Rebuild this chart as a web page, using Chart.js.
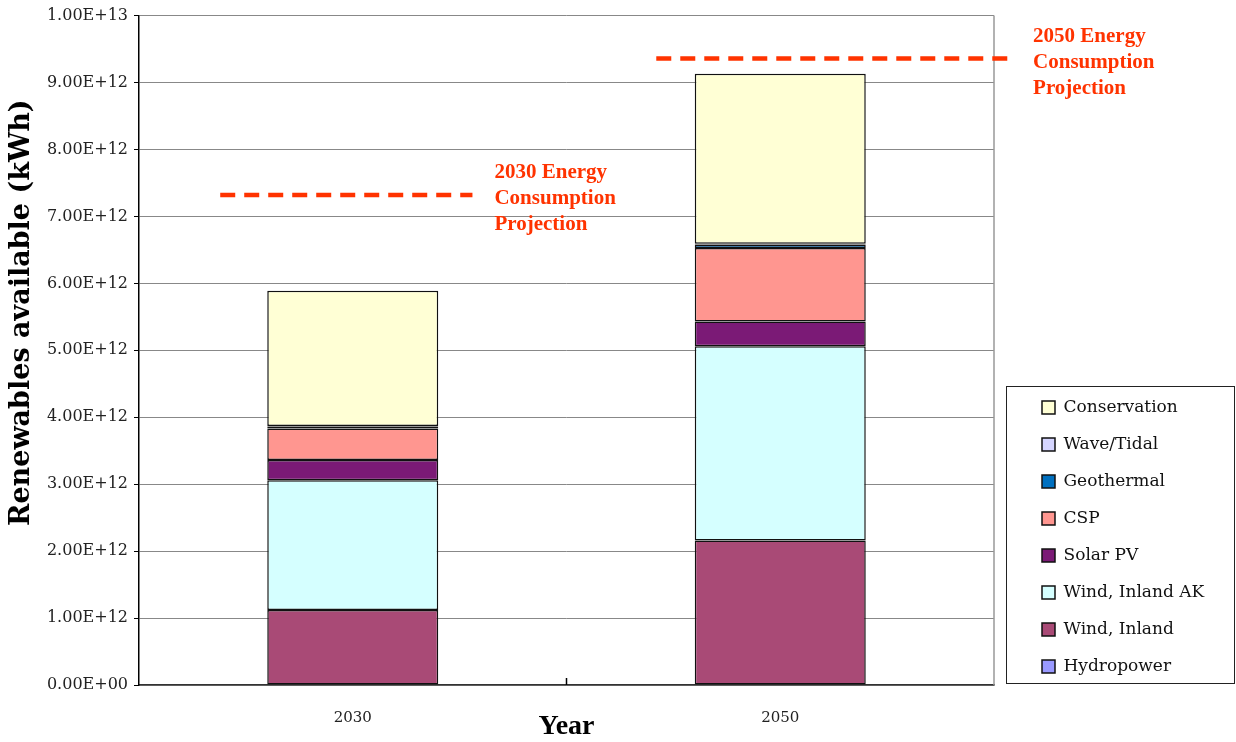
<!DOCTYPE html>
<html>
<head>
<meta charset="utf-8">
<script src="https://cdn.jsdelivr.net/npm/chart.js@4.4.1/dist/chart.umd.min.js"></script>
<style>
  html, body { margin: 0; padding: 0; background: #fff; }
  #wrap { width: 1236px; height: 742px; }
</style>
</head>
<body>
<div id="wrap"><canvas id="RenewablesChart"></canvas></div>
<script>
// Renewables available per year (kWh), bottom of the stack first
const years = ["2030", "2050"];
const hydropower = [0, 0];
const windInland = [1.12e12, 2.16e12];
const windInlandAK = [1.94e12, 2.90e12];
const solarPV = [0.30e12, 0.37e12];
const csp = [0.47e12, 1.10e12];
const geothermal = [0.03e12, 0.05e12];
const waveTidal = [0.01e12, 0.01e12];
const conservation = [2.02e12, 2.54e12];

// Consumption projections drawn as dashed lines
const projectionValues = [7.32e12, 9.36e12];
const projectionLabels = [
    ["2030 Energy", "Consumption", "Projection"],
    ["2050 Energy", "Consumption", "Projection"]
];

const yTicks = [0, 1e12, 2e12, 3e12, 4e12, 5e12, 6e12, 7e12, 8e12, 9e12, 1e13];

function sci(v) {
    if (v === 0) return "0.00E+00";
    const exp = Math.floor(Math.log10(v) + 1e-9);
    const mant = v / Math.pow(10, exp);
    return mant.toFixed(2) + "E+" + String(exp).padStart(2, "0");
}

function series(label, data, color) {
    return {
        label: label,
        data: data,
        backgroundColor: color,
        borderColor: "#111",
        borderWidth: 1.5,
        borderSkipped: false,
        barPercentage: 0.4,
        categoryPercentage: 1.0
    };
}

// legend frame, right plot border, inner x tick and projection lines
const extras = {
    id: "extras",
    beforeLayout(chart) {
        const lg = chart.legend;
        if (lg && !lg._wideFit) {
            const fit = lg.fit;
            lg.fit = function () { fit.call(this); this.width = 242; };
            lg._wideFit = true;
        }
    },
    afterLayout(chart) {
        const lg = chart.legend;
        lg.left = chart.chartArea.right + 28;
        lg.top += 10;
        lg.bottom += 10;
    },
    afterDraw(chart) {
        const ctx = chart.ctx;
        const area = chart.chartArea;
        const x = chart.scales.x;
        const y = chart.scales.y;
        ctx.save();

        // right border of the plot
        ctx.strokeStyle = "#999";
        ctx.lineWidth = 1.5;
        ctx.beginPath();
        ctx.moveTo(area.right, area.top);
        ctx.lineTo(area.right, area.bottom);
        ctx.stroke();

        // tick between the categories
        ctx.strokeStyle = "#000";
        const mid = x.getPixelForValue(0.5);
        ctx.beginPath();
        ctx.moveTo(mid, area.bottom);
        ctx.lineTo(mid, area.bottom - 7);
        ctx.stroke();

        // legend frame
        const lg = chart.legend;
        ctx.strokeStyle = "#222";
        ctx.lineWidth = 1;
        ctx.strokeRect(area.right + 12.5, lg.bottom - 308.5, chart.width - area.right - 14, 297);

        // projections
        const spans = [[-0.31, 0.28], [0.71, 1.54]];
        ctx.strokeStyle = "#FF3300";
        ctx.fillStyle = "#FF3300";
        ctx.lineWidth = 4.5;
        ctx.setLineDash([15, 9]);
        ctx.font = "bold 21px 'Liberation Serif', serif";
        ctx.textBaseline = "middle";
        ctx.textAlign = "left";
        projectionValues.forEach((v, i) => {
            const py = y.getPixelForValue(v);
            const x0 = x.getPixelForValue(spans[i][0]);
            const x1 = x.getPixelForValue(spans[i][1]);
            ctx.beginPath();
            ctx.moveTo(x0, py);
            ctx.lineTo(x1, py);
            ctx.stroke();
            projectionLabels[i].forEach((t, j) => {
                ctx.fillText(t, x1 + 22, py - 22 + j * 26);
            });
        });
        ctx.restore();
    }
};

new Chart("RenewablesChart", {
    type: "bar",
    data: {
        labels: years,
        datasets: [
            series("Hydropower", hydropower, "#9999FF"),
            series("Wind, Inland", windInland, "#A94A76"),
            series("Wind, Inland AK", windInlandAK, "#D5FFFF"),
            series("Solar PV", solarPV, "#7B1A76"),
            series("CSP", csp, "#FF9690"),
            series("Geothermal", geothermal, "#0070C0"),
            series("Wave/Tidal", waveTidal, "#D5D5FF"),
            series("Conservation", conservation, "#FFFFD5")
        ]
    },
    options: {
        responsive: true,
        maintainAspectRatio: false,
        animation: false,
        layout: { padding: { top: 14, left: 0, right: 0, bottom: 0 } },
        scales: {
            x: {
                stacked: true,
                grid: { display: false },
                border: { display: true, color: "#333", width: 1.5 },
                ticks: {
                    color: "#222",
                    font: { family: "'DejaVu Serif', serif", size: 15 },
                    padding: 16
                },
                title: {
                    display: true,
                    text: "Year",
                    color: "#000",
                    font: { family: "'Liberation Serif', serif", size: 28, weight: "bold", lineHeight: 1 },
                    padding: { top: 0, bottom: 1 }
                },
                afterFit(scale) { scale.height = 57; }
            },
            y: {
                stacked: true,
                min: 0,
                max: 1e13,
                afterBuildTicks(scale) {
                    scale.ticks = yTicks.map(v => ({ value: v }));
                },
                grid: { color: "#888", lineWidth: 1, tickLength: 5, tickColor: "#000" },
                border: { display: true, color: "#000", width: 1.5 },
                ticks: {
                    color: "#222",
                    font: { family: "'DejaVu Serif', serif", size: 16 },
                    padding: 6,
                    callback: v => sci(v)
                },
                title: {
                    display: true,
                    text: "\u00A0".repeat(8) + "Renewables available (kWh)",
                    color: "#000",
                    font: { family: "'DejaVu Serif', serif", size: 27, weight: "bold", lineHeight: 1 },
                    padding: { top: 8, bottom: 0 }
                },
                afterFit(scale) { scale.width = 139; }
            }
        },
        plugins: {
            legend: {
                display: true,
                position: "right",
                align: "end",
                fullSize: false,
                reverse: true,
                labels: {
                    boxWidth: 13,
                    boxHeight: 13,
                    padding: 20,
                    color: "#111",
                    font: { family: "'DejaVu Serif', serif", size: 17 }
                }
            },
            tooltip: { enabled: false }
        }
    },
    plugins: [extras]
});
</script>
</body>
</html>
